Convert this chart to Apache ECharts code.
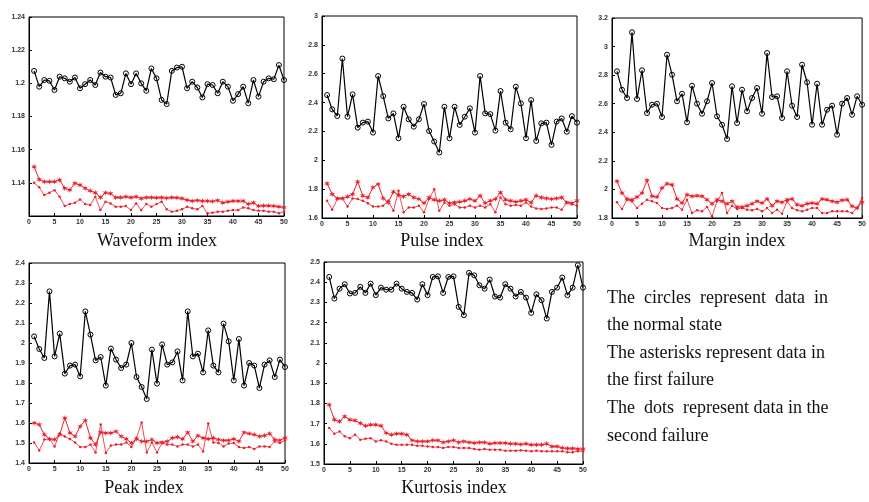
<!DOCTYPE html>
<html>
<head>
<meta charset="utf-8">
<script src="https://cdn.jsdelivr.net/npm/echarts@6/dist/echarts.min.js"></script>
<style>
    html, body { margin: 0; padding: 0; background: #fff; }
    #main { width: 869px; height: 502px; }
</style>
</head>
<body>
<div id="main"></div>
<script>
// 每个子图三组数据：正常(圆圈)、第一种故障(星号)、第二种故障(点)
var waveformNormal = [1.2075,1.198,1.202,1.2015,1.196,1.204,1.203,1.201,1.2035,1.197,1.1995,1.202,1.199,1.2065,1.204,1.2035,1.193,1.194,1.206,1.1995,1.206,1.200,1.1955,1.209,1.203,1.190,1.1875,1.2075,1.2095,1.210,1.197,1.201,1.1975,1.1915,1.1995,1.199,1.194,1.201,1.198,1.1895,1.1935,1.198,1.188,1.202,1.192,1.201,1.203,1.2025,1.211,1.202];
var waveformFirst = [1.1497,1.142,1.1407,1.1407,1.1407,1.1417,1.1367,1.1357,1.1397,1.1387,1.1367,1.1352,1.134,1.1312,1.134,1.1336,1.1312,1.1312,1.1316,1.1312,1.1316,1.1306,1.1312,1.1312,1.131,1.1312,1.1308,1.1312,1.131,1.1306,1.1296,1.129,1.1294,1.129,1.129,1.1288,1.1294,1.128,1.1286,1.129,1.129,1.129,1.1272,1.128,1.126,1.1262,1.1262,1.126,1.1256,1.1252];
var waveformSecond = [1.14,1.1373,1.1326,1.134,1.1356,1.1316,1.126,1.1272,1.128,1.13,1.1272,1.1266,1.1316,1.1236,1.1286,1.1276,1.1256,1.1256,1.126,1.1236,1.1276,1.1236,1.1272,1.1256,1.1272,1.1286,1.124,1.1226,1.1232,1.124,1.1256,1.1246,1.124,1.126,1.1216,1.122,1.1226,1.1226,1.1232,1.1236,1.1236,1.1252,1.1246,1.1236,1.1232,1.1232,1.1226,1.1226,1.1216,1.1226];

var pulseNormal = [2.452,2.353,2.307,2.705,2.302,2.457,2.226,2.261,2.268,2.192,2.584,2.445,2.29,2.325,2.153,2.371,2.284,2.233,2.284,2.39,2.203,2.13,2.054,2.371,2.153,2.371,2.245,2.302,2.36,2.192,2.584,2.325,2.32,2.206,2.48,2.261,2.215,2.51,2.394,2.153,2.417,2.134,2.256,2.261,2.107,2.268,2.29,2.198,2.306,2.261];
var pulseFirst = [1.839,1.765,1.736,1.736,1.747,1.765,1.851,1.754,1.742,1.812,1.835,1.736,1.708,1.782,1.759,1.749,1.765,1.742,1.731,1.703,1.742,1.726,1.719,1.726,1.703,1.708,1.712,1.719,1.731,1.719,1.754,1.703,1.719,1.731,1.777,1.726,1.719,1.712,1.719,1.726,1.708,1.754,1.742,1.736,1.731,1.736,1.742,1.708,1.703,1.719];
var pulseSecond = [1.719,1.657,1.731,1.736,1.68,1.736,1.731,1.719,1.703,1.68,1.68,1.685,1.719,1.65,1.788,1.639,1.673,1.673,1.685,1.639,1.731,1.8,1.65,1.708,1.685,1.696,1.673,1.673,1.685,1.673,1.685,1.673,1.696,1.639,1.742,1.696,1.685,1.69,1.685,1.708,1.68,1.666,1.662,1.666,1.673,1.673,1.657,1.708,1.696,1.685];

var marginNormal = [2.827,2.698,2.64,3.1,2.633,2.834,2.535,2.593,2.6,2.507,2.943,2.803,2.617,2.67,2.47,2.726,2.6,2.53,2.617,2.745,2.512,2.453,2.353,2.722,2.465,2.698,2.547,2.64,2.71,2.53,2.955,2.647,2.652,2.5,2.827,2.586,2.507,2.873,2.75,2.453,2.74,2.453,2.558,2.586,2.383,2.6,2.64,2.523,2.652,2.593];
var marginFirst = [2.057,1.975,1.933,1.928,1.947,1.975,2.064,1.952,1.947,2.01,2.04,2.033,1.933,1.905,1.963,1.952,1.956,1.952,1.928,1.9,1.928,1.917,1.9,1.917,1.877,1.877,1.886,1.9,1.917,1.905,1.933,1.886,1.917,1.91,1.928,1.933,1.893,1.886,1.9,1.905,1.9,1.933,1.928,1.917,1.91,1.924,1.928,1.882,1.87,1.91];
var marginSecond = [1.91,1.863,1.928,1.917,1.87,1.9,1.928,1.917,1.905,1.87,1.863,1.87,1.886,1.858,1.928,1.835,1.854,1.847,1.877,1.812,1.917,1.975,1.835,1.886,1.863,1.87,1.858,1.854,1.863,1.847,1.87,1.835,1.858,1.83,1.917,1.87,1.854,1.847,1.858,1.87,1.87,1.835,1.835,1.847,1.847,1.847,1.847,1.835,1.87,1.94];

var peakNormal = [2.033,1.97,1.925,2.258,1.933,2.047,1.847,1.887,1.892,1.833,2.158,2.042,1.913,1.93,1.787,1.972,1.917,1.875,1.892,2.0,1.83,1.78,1.72,1.967,1.797,1.993,1.892,1.903,1.958,1.813,2.158,1.933,1.947,1.853,2.063,1.887,1.853,2.097,2.008,1.813,2.02,1.787,1.9,1.887,1.775,1.892,1.913,1.83,1.917,1.88];
var peakFirst = [1.6,1.592,1.542,1.52,1.517,1.542,1.625,1.55,1.533,1.583,1.613,1.525,1.492,1.553,1.55,1.55,1.558,1.533,1.52,1.5,1.52,1.508,1.508,1.517,1.5,1.503,1.508,1.525,1.53,1.52,1.553,1.508,1.537,1.525,1.52,1.525,1.517,1.513,1.513,1.52,1.508,1.553,1.547,1.542,1.533,1.537,1.547,1.517,1.513,1.525];
var peakSecond = [1.503,1.463,1.517,1.52,1.483,1.547,1.533,1.52,1.503,1.48,1.48,1.492,1.453,1.592,1.45,1.487,1.492,1.492,1.503,1.48,1.525,1.603,1.453,1.503,1.453,1.5,1.492,1.492,1.483,1.492,1.492,1.483,1.492,1.458,1.597,1.503,1.5,1.483,1.497,1.5,1.48,1.475,1.48,1.47,1.483,1.483,1.48,1.508,1.5,1.513];

var kurtosisNormal = [2.426,2.319,2.368,2.39,2.344,2.347,2.377,2.347,2.393,2.336,2.373,2.363,2.363,2.393,2.368,2.352,2.347,2.314,2.39,2.336,2.426,2.429,2.347,2.426,2.429,2.278,2.237,2.446,2.434,2.385,2.368,2.413,2.329,2.324,2.39,2.368,2.329,2.352,2.324,2.248,2.34,2.311,2.22,2.352,2.373,2.423,2.336,2.373,2.484,2.373];
var kurtosisFirst = [1.793,1.719,1.71,1.735,1.719,1.715,1.702,1.689,1.694,1.694,1.689,1.653,1.645,1.65,1.65,1.645,1.617,1.612,1.612,1.612,1.617,1.617,1.607,1.612,1.617,1.607,1.612,1.607,1.604,1.607,1.607,1.6,1.604,1.604,1.604,1.6,1.6,1.597,1.6,1.595,1.595,1.595,1.6,1.587,1.587,1.58,1.577,1.577,1.574,1.574];
var kurtosisSecond = [1.678,1.65,1.661,1.637,1.628,1.645,1.62,1.625,1.628,1.612,1.617,1.612,1.6,1.595,1.595,1.595,1.595,1.59,1.59,1.587,1.584,1.584,1.579,1.584,1.584,1.579,1.579,1.579,1.574,1.571,1.574,1.571,1.571,1.571,1.566,1.566,1.566,1.568,1.566,1.563,1.566,1.563,1.563,1.563,1.563,1.563,1.558,1.558,1.563,1.563];

var panelNames = ['Waveform index', 'Pulse index', 'Margin index', 'Peak index', 'Kurtosis index'];
var yMins = [1.12, 1.6, 1.8, 1.4, 1.5];
var yMaxs = [1.24, 3, 3.2, 2.4, 2.5];
var yIntervals = [0.02, 0.2, 0.2, 0.1, 0.1];
var xTicks = [0, 50, 5];   // min, max, interval

var noteLines = [
    'The  circles  represent  data  in',
    'the normal state',
    'The asterisks represent data in',
    'the first failure',
    'The  dots  represent data in the',
    'second failure'
];

var panelData = [
    [waveformNormal, waveformFirst, waveformSecond],
    [pulseNormal, pulseFirst, pulseSecond],
    [marginNormal, marginFirst, marginSecond],
    [peakNormal, peakFirst, peakSecond],
    [kurtosisNormal, kurtosisFirst, kurtosisSecond]
];

// 子图位置
var grids = [
    {left: 29, top: 17, width: 255, height: 199},
    {left: 322, top: 16, width: 255, height: 202},
    {left: 612, top: 18, width: 256, height: 200},
    {left: 29, top: 263, width: 256, height: 200},
    {left: 324, top: 262, width: 259, height: 202}
];
var captions = [[157, 232], [442, 232], [737, 232], [144, 479], [454, 479]];

var red = '#e8202a';
var asterisk = 'path://M0,-10 L1.6,-3.2 L8.7,-5 L3.4,0 L8.7,5 L1.6,3.2 L0,10 L-1.6,3.2 L-8.7,5 L-3.4,0 L-8.7,-5 L-1.6,-3.2 Z';

function pairs(arr) {
    var out = [];
    for (var i = 0; i < arr.length; i++) {
        out.push([i + 1, arr[i]]);
    }
    return out;
}

var labelStyle = {
    fontFamily: 'Liberation Sans',
    fontSize: 7,
    fontWeight: 'bold',
    color: '#333'
};

var gridList = [], xAxisList = [], yAxisList = [], seriesList = [], titleList = [];
for (var p = 0; p < 5; p++) {
    gridList.push({
        left: grids[p].left, top: grids[p].top,
        width: grids[p].width, height: grids[p].height,
        show: true, borderColor: '#000', borderWidth: 1,
        backgroundColor: '#fff'
    });
    xAxisList.push({
        type: 'value', gridIndex: p,
        min: xTicks[0], max: xTicks[1], interval: xTicks[2],
        axisLine: {lineStyle: {color: '#000', width: 1}},
        axisTick: {inside: true, length: 3, lineStyle: {color: '#000'}},
        axisLabel: Object.assign({margin: 3}, labelStyle),
        splitLine: {show: false}
    });
    yAxisList.push({
        type: 'value', gridIndex: p,
        min: yMins[p], max: yMaxs[p], interval: yIntervals[p],
        axisLine: {show: true, lineStyle: {color: '#000', width: 1}},
        axisTick: {show: true, inside: true, length: 3, lineStyle: {color: '#000'}},
        axisLabel: Object.assign({margin: 4, showMinLabel: p !== 0}, labelStyle),
        splitLine: {show: false}
    });
    titleList.push({
        text: panelNames[p],
        left: captions[p][0], top: captions[p][1],
        textAlign: 'center', padding: 0,
        textStyle: {fontFamily: 'Liberation Serif', fontSize: 18, fontWeight: 'normal', color: '#111'}
    });
    var d = panelData[p];
    seriesList.push({
        type: 'line', xAxisIndex: p, yAxisIndex: p,
        data: pairs(d[2]),
        symbol: 'circle', symbolSize: 2.5,
        itemStyle: {color: red},
        lineStyle: {color: red, width: 0.8},
        animation: false, z: 2
    });
    seriesList.push({
        type: 'line', xAxisIndex: p, yAxisIndex: p,
        data: pairs(d[1]),
        symbol: asterisk, symbolSize: 6,
        itemStyle: {color: red},
        lineStyle: {color: red, width: 1},
        animation: false, z: 3
    });
    // 圆圈空心，线要透过圆圈
    seriesList.push({
        type: 'line', xAxisIndex: p, yAxisIndex: p,
        data: pairs(d[0]),
        symbol: 'circle', symbolSize: 5,
        itemStyle: {color: 'rgba(255,255,255,0)', borderColor: '#000', borderWidth: 1},
        lineStyle: {color: '#000', width: 1.2},
        animation: false, z: 4
    });
}

var myChart = echarts.init(document.getElementById('main'));
var option = {
    backgroundColor: '#fff',
    animation: false,
    title: titleList,
    grid: gridList,
    xAxis: xAxisList,
    yAxis: yAxisList,
    series: seriesList,
    graphic: [
        {
            type: 'text',
            left: 607, top: 284,
            style: {
                text: noteLines.join('\n'),
                fontFamily: 'Liberation Serif',
                fontSize: 18,
                lineHeight: 27.6,
                fill: '#111'
            }
        }
    ]
};
myChart.setOption(option);
</script>
</body>
</html>
